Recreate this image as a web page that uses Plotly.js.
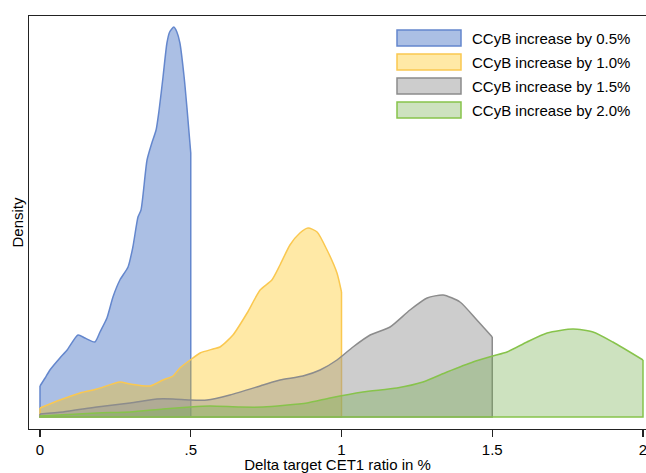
<!DOCTYPE html>
<html>
<head>
<meta charset="utf-8">
<script src="https://cdn.plot.ly/plotly-3.0.1.min.js"></script>
<style>html,body{margin:0;padding:0;background:#fff;}#chart{width:646px;height:473px;}</style>
</head>
<body>
<div id="chart"></div>
<script>
// Series names
const seriesNames = ["CCyB increase by 0.5%", "CCyB increase by 1.0%", "CCyB increase by 1.5%", "CCyB increase by 2.0%"];

// Density estimates (x in %, y density)
const x05 = [0, 0.017, 0.033, 0.066, 0.09, 0.126, 0.149, 0.182, 0.199, 0.222, 0.242, 0.265, 0.292, 0.308, 0.325, 0.335, 0.355, 0.371, 0.385, 0.395, 0.408, 0.421, 0.43, 0.444, 0.454, 0.464, 0.478, 0.488, 0.5];
const y05 = [0.62, 0.78, 0.94, 1.18, 1.34, 1.64, 1.58, 1.50, 1.70, 1.98, 2.40, 2.74, 3.00, 3.40, 4.00, 4.14, 5.14, 5.48, 5.74, 6.14, 6.80, 7.48, 7.70, 7.80, 7.70, 7.48, 6.80, 6.14, 5.28];

const x10 = [0, 0.066, 0.133, 0.189, 0.265, 0.299, 0.365, 0.408, 0.441, 0.464, 0.498, 0.531, 0.574, 0.597, 0.640, 0.687, 0.730, 0.769, 0.796, 0.829, 0.862, 0.889, 0.919, 0.952, 0.985, 1.0];
const y10 = [0.18, 0.34, 0.48, 0.56, 0.70, 0.66, 0.62, 0.74, 0.82, 0.98, 1.14, 1.28, 1.36, 1.40, 1.64, 2.08, 2.54, 2.74, 3.04, 3.44, 3.68, 3.78, 3.70, 3.34, 2.88, 2.50];

const x15 = [0, 0.076, 0.189, 0.299, 0.388, 0.441, 0.498, 0.554, 0.630, 0.740, 0.796, 0.872, 0.929, 0.985, 1.038, 1.095, 1.161, 1.227, 1.284, 1.337, 1.393, 1.449, 1.5];
const y15 = [0.06, 0.10, 0.20, 0.28, 0.36, 0.36, 0.34, 0.34, 0.44, 0.64, 0.74, 0.82, 0.94, 1.14, 1.40, 1.64, 1.80, 2.14, 2.38, 2.44, 2.30, 1.94, 1.60];

const x20 = [0, 0.189, 0.299, 0.408, 0.498, 0.564, 0.663, 0.740, 0.886, 0.962, 1.071, 1.184, 1.270, 1.350, 1.436, 1.502, 1.549, 1.615, 1.682, 1.768, 1.834, 1.900, 2.0];
const y20 = [0.02, 0.08, 0.10, 0.16, 0.20, 0.22, 0.20, 0.20, 0.28, 0.38, 0.50, 0.58, 0.70, 0.90, 1.10, 1.22, 1.30, 1.50, 1.68, 1.76, 1.70, 1.50, 1.14];

// Tick labels
const xTickVals = [0, 0.5, 1, 1.5, 2];
const xTickText = ["0", ".5", "1", "1.5", "2"];

const fills = ["rgba(68,114,196,0.45)", "rgba(255,192,0,0.35)", "rgba(150,150,150,0.48)", "rgba(112,173,71,0.35)"];
const lines = ["rgb(100,135,205)", "rgb(250,200,80)", "rgb(140,140,140)", "rgb(135,195,75)"];

const xs = [x05, x10, x15, x20];
const ys = [y05, y10, y15, y20];

const traces = [];
xs.forEach((x, i) => {
  const y = ys[i];
  const n = x.length;
  traces.push({
    type: "scatter", mode: "lines", name: seriesNames[i],
    x: x, y: y, fill: "tozeroy", fillcolor: fills[i],
    line: {color: lines[i], width: 1.5, shape: "spline", smoothing: 0.6},
    showlegend: false, hoverinfo: "skip"
  });
  // outline edges: start drop, baseline, end drop
  traces.push({
    type: "scatter", mode: "lines", name: seriesNames[i] + " edge",
    x: [x[0], x[0], x[n - 1], x[n - 1]], y: [y[0], 0, 0, y[n - 1]],
    line: {color: lines[i], width: 1.5}, showlegend: false, hoverinfo: "skip"
  });
});

// Custom legend (boxes + labels)
const W = 646, H = 473, mL = 29, mR = 0, mT = 16, mB = 44;
const pw = W - mL - mR, ph = H - mT - mB;
const px2p = v => (v - mL) / pw;
const py2p = v => (H - mB - v) / ph;
const shapes = [], annotations = [];
seriesNames.forEach((n, i) => {
  const top = 30 + i * 24;
  shapes.push({type: "rect", xref: "paper", yref: "paper",
    x0: px2p(397), x1: px2p(461), y0: py2p(top + 16), y1: py2p(top),
    fillcolor: fills[i], line: {color: lines[i], width: 1.5}});
  annotations.push({xref: "paper", yref: "paper", x: px2p(470), y: py2p(top + 8),
    xanchor: "left", yanchor: "middle", text: n, showarrow: false,
    font: {family: "Liberation Sans, Arial, sans-serif", size: 15, color: "#000"}});
});

const layout = {
  width: W, height: H,
  margin: {l: mL, r: mR, t: mT, b: mB, pad: 0},
  paper_bgcolor: "#fff", plot_bgcolor: "#fff",
  font: {family: "Liberation Sans, Arial, sans-serif", size: 15, color: "#000"},
  showlegend: false,
  xaxis: {
    range: [-0.0365, 2.00995], tickvals: xTickVals, ticktext: xTickText,
    ticks: "outside", ticklen: 7, tickwidth: 1.3, tickcolor: "#222",
    ticklabeloverflow: "allow",
    showline: true, linecolor: "#222", linewidth: 1.3, mirror: true,
    showgrid: false, zeroline: false, automargin: false,
    tickfont: {size: 15},
    title: {text: "Delta target CET1 ratio in %", font: {size: 15}, standoff: 6}
  },
  yaxis: {
    range: [-0.24, 8.02], showticklabels: false, ticks: "",
    showline: true, linecolor: "#222", linewidth: 1.3,
    showgrid: false, zeroline: false, automargin: false,
    title: {text: "Density", font: {size: 15}, standoff: 0}
  },
  shapes: shapes, annotations: annotations
};

Plotly.newPlot("chart", traces, layout, {displayModeBar: false, staticPlot: true});
</script>
</body>
</html>
